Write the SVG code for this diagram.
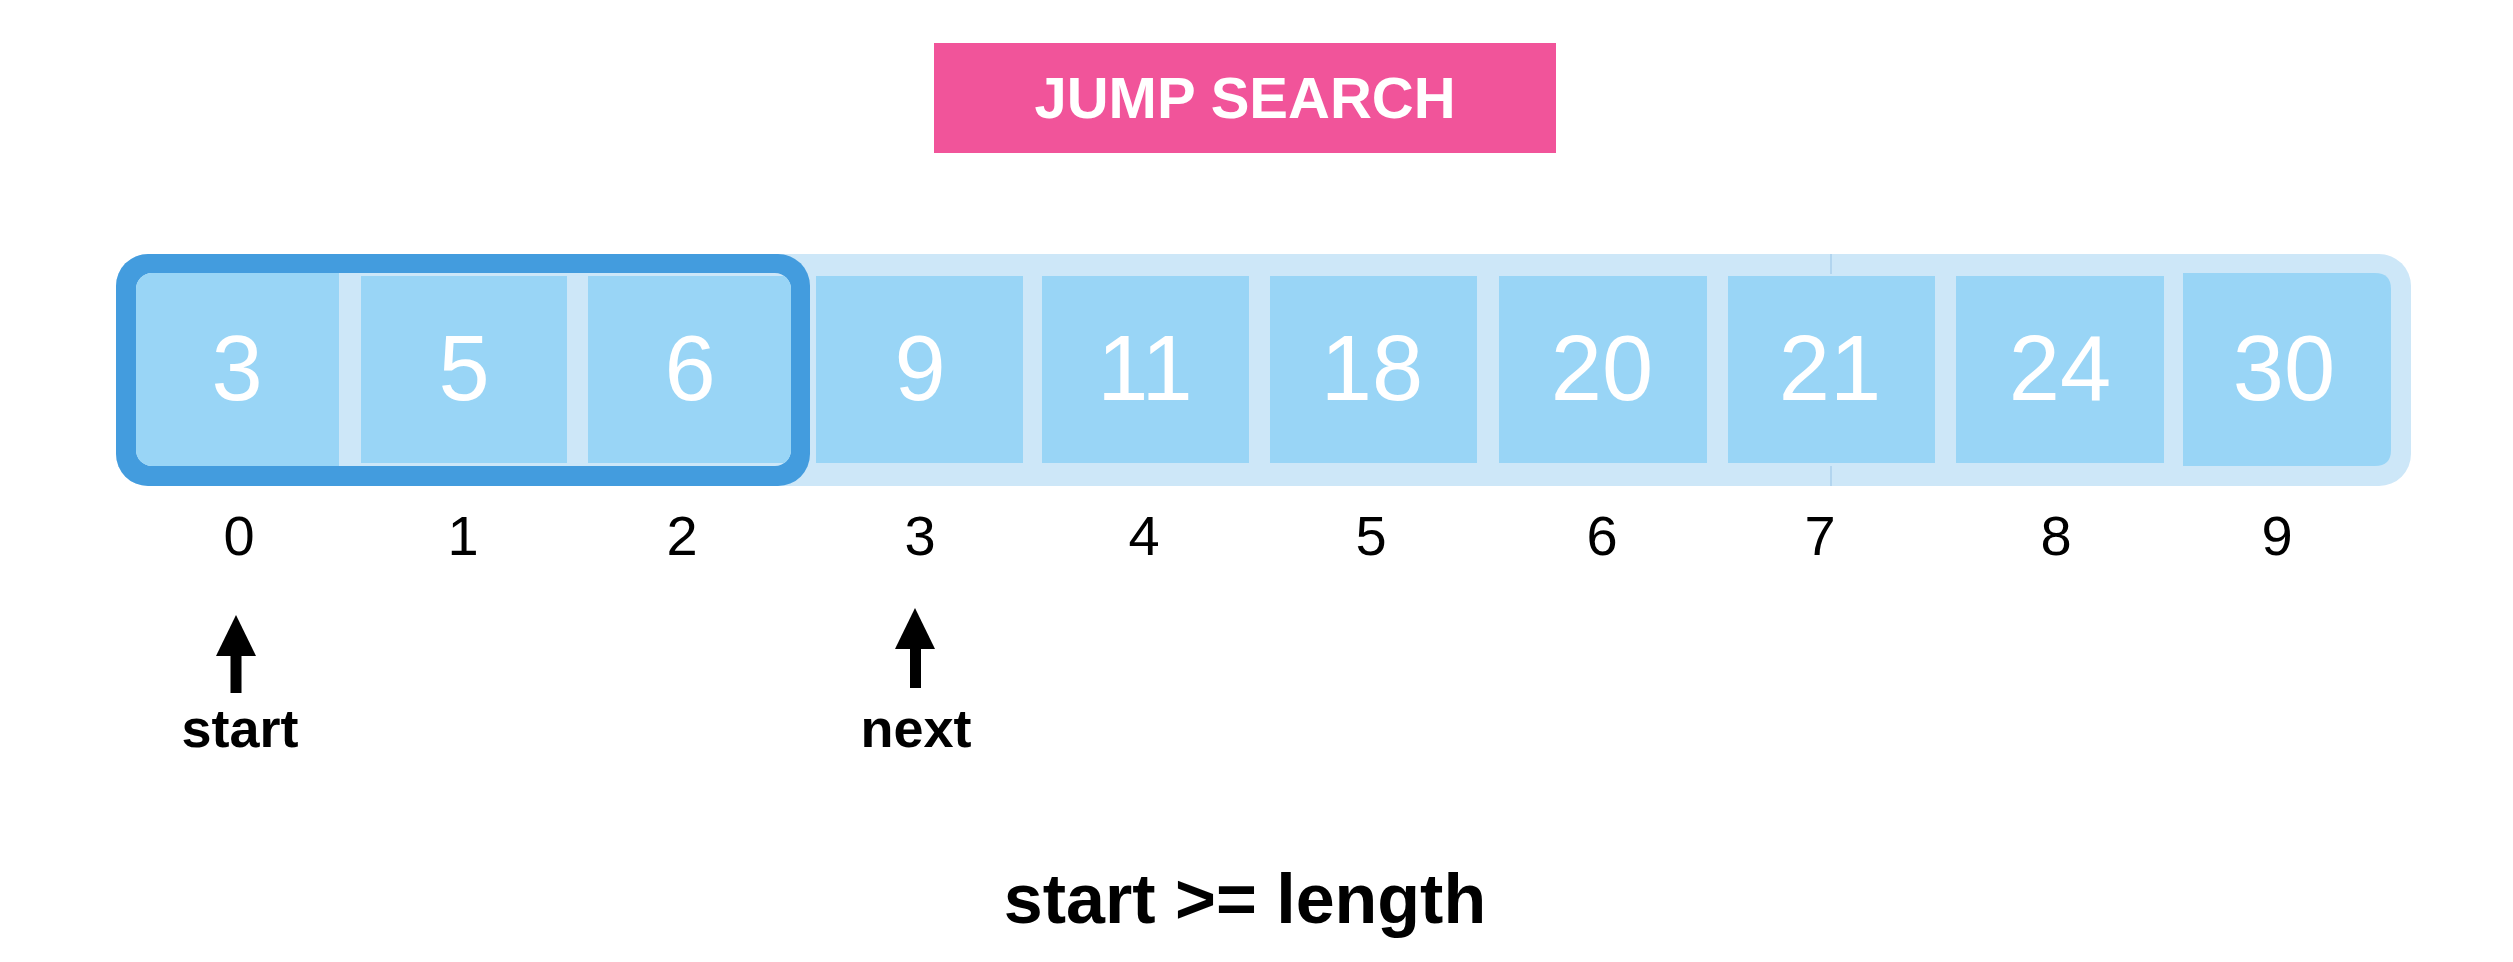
<svg xmlns="http://www.w3.org/2000/svg" width="2513" height="962" viewBox="0 0 2513 962">
<defs>
<style>
.cell{fill:#99D5F6}
.val{font-family:"Liberation Sans",Arial,sans-serif;font-size:92px;fill:#FFFFFF;text-anchor:middle}
.idx{font-family:"Liberation Sans",Arial,sans-serif;font-size:56px;fill:#000000;text-anchor:middle}
.lbl{font-family:"Liberation Sans",Arial,sans-serif;font-weight:bold;font-size:54px;fill:#000000;text-anchor:middle}
.ptr{fill:#000000}
</style>
<clipPath id="innerClip"><rect x="136" y="273" width="655" height="193" rx="16" ry="16"/></clipPath>
</defs>
<rect width="2513" height="962" fill="#FFFFFF"/>

<g id="title">
<rect x="934" y="43" width="622" height="110" fill="#F1549A"/>
<text x="1245" y="118" font-family="Liberation Sans, Arial, sans-serif" font-weight="bold" font-size="58" fill="#FFFFFF" text-anchor="middle">JUMP SEARCH</text>
</g>

<g id="array">
<rect x="116" y="254" width="2295" height="232" rx="32" ry="32" fill="#CDE7F8"/>
<line x1="1831" y1="254" x2="1831" y2="274" stroke="#A9CFEC" stroke-width="1.5"/>
<line x1="1831" y1="466" x2="1831" y2="486" stroke="#A9CFEC" stroke-width="1.5"/>
</g>

<g id="block">
<rect x="116" y="254" width="694" height="232" rx="32" ry="32" fill="#439CDE"/>
<rect x="136" y="273" width="655" height="193" rx="16" ry="16" fill="#CDE7F8"/>
</g>

<g id="cell0">
<rect class="cell" x="136" y="273" width="203" height="193" clip-path="url(#innerClip)"/>
<text class="val" x="237" y="400">3</text>
<text class="idx" x="239" y="555">0</text>
</g>
<g id="cell1">
<rect class="cell" x="361" y="276" width="206" height="187"/>
<text class="val" x="464" y="400">5</text>
<text class="idx" x="463" y="555">1</text>
</g>
<g id="cell2">
<rect class="cell" x="588" y="276" width="203" height="187" clip-path="url(#innerClip)"/>
<text class="val" x="690" y="400">6</text>
<text class="idx" x="682" y="555">2</text>
</g>
<g id="cell3">
<rect class="cell" x="816" y="276" width="207" height="187"/>
<text class="val" x="920" y="400">9</text>
<text class="idx" x="920" y="555">3</text>
</g>
<g id="cell4">
<rect class="cell" x="1042" y="276" width="207" height="187"/>
<text class="val" x="1145" y="400">11</text>
<text class="idx" x="1144" y="555">4</text>
</g>
<g id="cell5">
<rect class="cell" x="1270" y="276" width="207" height="187"/>
<text class="val" x="1372" y="400">18</text>
<text class="idx" x="1371" y="555">5</text>
</g>
<g id="cell6">
<rect class="cell" x="1499" y="276" width="208" height="187"/>
<text class="val" x="1602" y="400">20</text>
<text class="idx" x="1602" y="555">6</text>
</g>
<g id="cell7">
<rect class="cell" x="1728" y="276" width="207" height="187"/>
<text class="val" x="1830" y="400">21</text>
<text class="idx" x="1820" y="555">7</text>
</g>
<g id="cell8">
<rect class="cell" x="1956" y="276" width="208" height="187"/>
<text class="val" x="2060" y="400">24</text>
<text class="idx" x="2056" y="555">8</text>
</g>
<g id="cell9">
<path class="cell" d="M2183 273 H2375 Q2391 273 2391 289 V450 Q2391 466 2375 466 H2183 Z"/>
<text class="val" x="2284" y="400">30</text>
<text class="idx" x="2277" y="555">9</text>
</g>

<g id="connectors">
<g id="start-pointer">
<rect class="ptr" x="230.5" y="653" width="11" height="40"/>
<polygon class="ptr" points="236,615 256,656 216,656"/>
</g>
<g id="next-pointer">
<rect class="ptr" x="910" y="646" width="11" height="42"/>
<polygon class="ptr" points="915,608 935,649 895,649"/>
</g>
</g>

<g id="start-label"><text class="lbl" x="240" y="747">start</text></g>
<g id="next-label"><text class="lbl" x="916" y="747">next</text></g>

<g id="condition">
<text x="1245" y="923" font-family="Liberation Sans, Arial, sans-serif" font-weight="bold" font-size="70" fill="#000000" text-anchor="middle">start &gt;= length</text>
</g>
</svg>
